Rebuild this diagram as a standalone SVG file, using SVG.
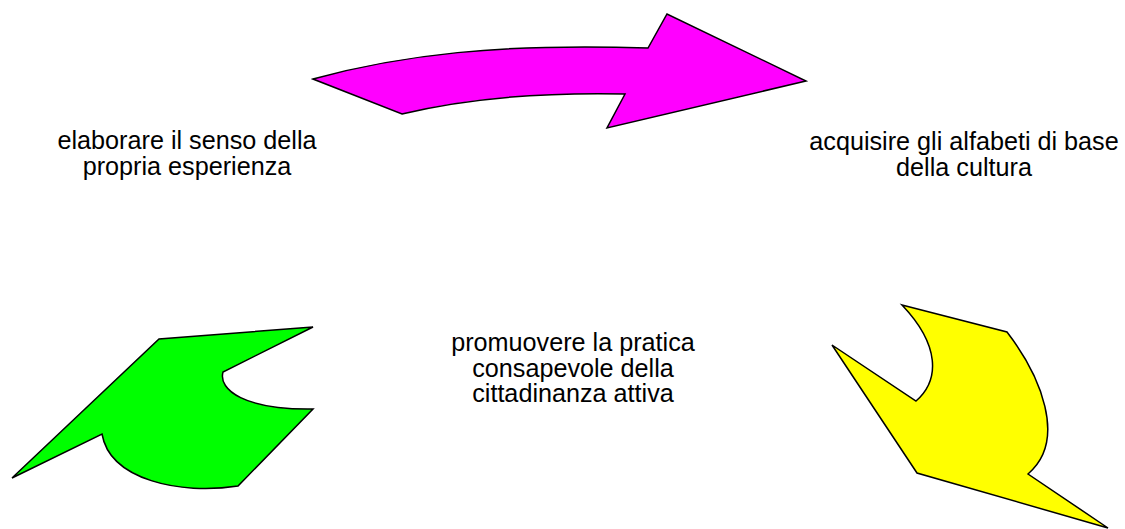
<svg xmlns="http://www.w3.org/2000/svg" width="1125" height="529" viewBox="0 0 1125 529">
<style>
.shape{stroke:#000;stroke-width:1.5;stroke-linejoin:miter}
.lbl{font-family:"Liberation Sans",Arial,sans-serif;font-size:25.2px;fill:#000;text-anchor:middle}
</style>
<rect width="1125" height="529" fill="#fff"/>
<g id="connectors">
<path id="arrow-top" class="shape" fill="#ff00ff" d="M313,79 C400,55 500,43 648,48 L667,14 L806,81 L607,128 L625,94 C530,92 460,100 402,114 Z"/>
<path id="arrow-left" class="shape" fill="#00ff00" d="M313,327 L159,339 L12,478 L102,434 C110,480 180,495 238,486 L313,409 C245,410 218,390 223,372 Z"/>
<path id="arrow-right" class="shape" fill="#ffff00" d="M902,305 L1007,332 C1040,375 1068,440 1028,474 L1108,528 L917,473 L832,345 L916,401 C940,380 940,345 902,305 Z"/>
</g>
<g id="node-left">
<text class="lbl" x="187" y="149">elaborare il senso della</text>
<text class="lbl" x="187" y="174.5">propria esperienza</text>
</g>
<g id="node-right">
<text class="lbl" x="964" y="150">acquisire gli alfabeti di base</text>
<text class="lbl" x="964" y="175.5">della cultura</text>
</g>
<g id="node-center">
<text class="lbl" x="573" y="351">promuovere la pratica</text>
<text class="lbl" x="573" y="376.5">consapevole della</text>
<text class="lbl" x="573" y="402">cittadinanza attiva</text>
</g>
</svg>
